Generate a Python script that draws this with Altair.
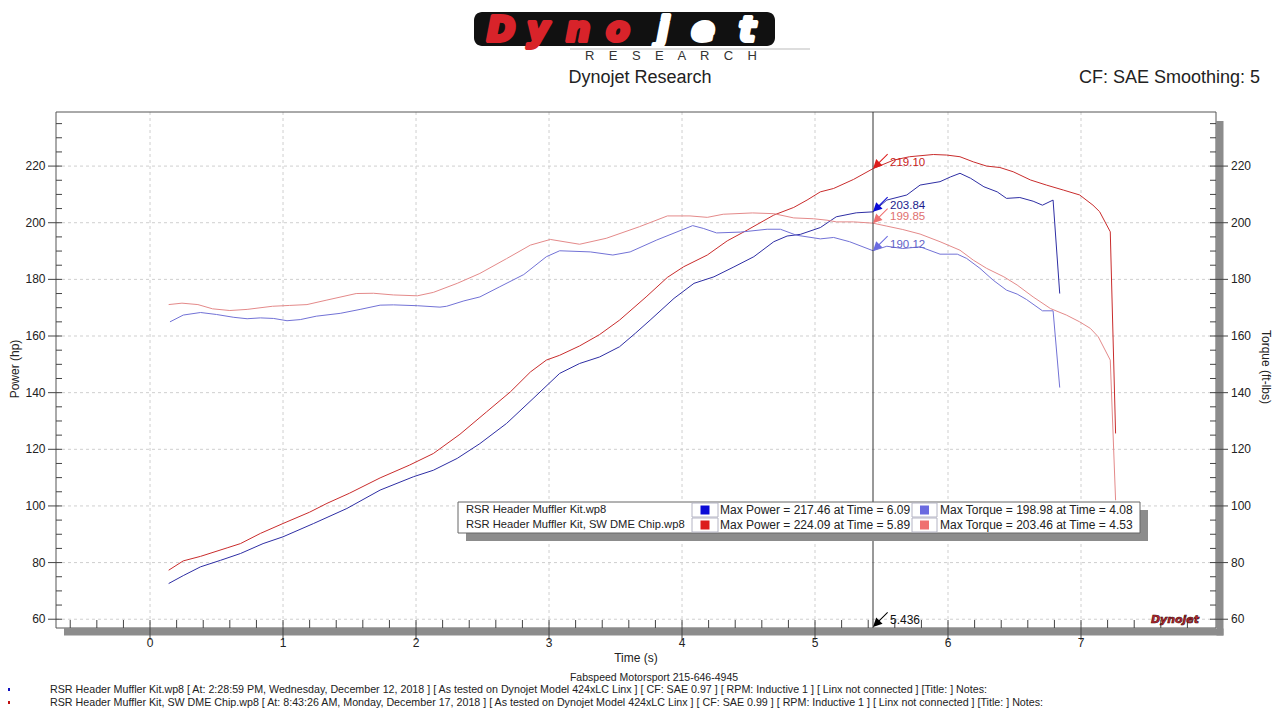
import altair as alt
import pandas as pd

# ---------------- data ----------------
run_names = ["RSR Header Muffler Kit.wp8", "RSR Header Muffler Kit, SW DME Chip.wp8"]
max_power = [217.46, 224.09]
max_power_time = [6.09, 5.89]
max_torque = [198.98, 203.46]
max_torque_time = [4.08, 4.53]

# run 1 power (hp)
pow1_t = [0.14, 0.25, 0.38, 0.53, 0.68, 0.85, 1.00, 1.23, 1.48, 1.73, 1.98, 2.13, 2.31, 2.48, 2.68,
          2.88, 3.08, 3.23, 3.38, 3.53, 3.65, 3.76, 3.94, 4.09, 4.24, 4.39, 4.54, 4.69, 4.79, 4.89,
          5.04, 5.16, 5.31, 5.436, 5.54, 5.69, 5.79, 5.94, 6.02, 6.09, 6.17, 6.27, 6.37, 6.44, 6.54,
          6.64, 6.71, 6.79, 6.84]
pow1_v = [72.6, 75.4, 78.5, 80.8, 83.2, 86.7, 89.1, 93.8, 99.1, 105.6, 110.3, 112.6, 116.8, 122.0, 129.1,
          137.9, 146.8, 150.3, 152.6, 156.2, 161.0, 165.6, 173.3, 178.6, 180.9, 184.4, 188.0, 193.3, 195.3, 195.9,
          198.3, 202.1, 203.5, 203.84, 208.0, 209.8, 213.3, 214.5, 216.2, 217.46, 215.7, 212.7, 210.9, 208.6, 208.9,
          207.6, 206.2, 208.0, 175.0]

# run 2 power (hp)
pow2_t = [0.14, 0.25, 0.38, 0.58, 0.68, 0.83, 1.00, 1.20, 1.33, 1.50, 1.73, 1.95, 2.13, 2.33, 2.53,
          2.71, 2.86, 2.98, 3.08, 3.23, 3.38, 3.53, 3.73, 3.89, 4.01, 4.19, 4.34, 4.49, 4.69, 4.84,
          4.94, 5.04, 5.14, 5.29, 5.436, 5.59, 5.71, 5.89, 5.99, 6.09, 6.19, 6.29, 6.39, 6.49, 6.62,
          6.74, 6.87, 6.99, 7.09, 7.14, 7.22, 7.26]
pow2_v = [77.3, 80.6, 82.2, 85.2, 86.7, 90.3, 93.8, 97.8, 100.9, 104.5, 109.9, 114.4, 118.5, 125.3, 133.2,
          140.3, 147.3, 151.5, 153.2, 156.5, 160.5, 165.6, 173.8, 180.7, 184.4, 188.6, 193.6, 197.4, 202.7, 205.4,
          208.0, 210.9, 212.1, 215.3, 219.10, 222.1, 223.3, 224.09, 223.9, 223.3, 221.5, 220.0, 219.5, 218.0, 215.1,
          213.3, 211.5, 209.8, 206.2, 203.9, 196.8, 125.6]

# run 1 torque (ft-lbs)
tq1_t = [0.15, 0.25, 0.38, 0.50, 0.63, 0.73, 0.83, 0.93, 1.03, 1.13, 1.25, 1.43, 1.58, 1.73, 1.83,
         2.01, 2.18, 2.23, 2.36, 2.48, 2.63, 2.81, 2.98, 3.08, 3.31, 3.48, 3.61, 3.81, 4.08, 4.16,
         4.26, 4.44, 4.64, 4.74, 4.86, 5.04, 5.14, 5.26, 5.436, 5.54, 5.66, 5.79, 5.94, 6.07, 6.14,
         6.24, 6.34, 6.44, 6.52, 6.59, 6.71, 6.79, 6.84]
tq1_v = [165.0, 167.4, 168.3, 167.6, 166.6, 166.1, 166.4, 166.2, 165.4, 165.8, 167.0, 168.0, 169.4, 170.9, 171.0,
         170.7, 170.2, 170.5, 172.4, 173.8, 177.4, 181.7, 188.0, 190.1, 189.7, 188.6, 189.7, 193.9, 198.98, 198.0,
         196.4, 196.7, 197.7, 197.7, 195.6, 194.3, 194.8, 193.3, 190.12, 191.7, 190.9, 191.5, 188.9, 188.9, 187.4,
         183.9, 179.7, 176.2, 174.8, 172.9, 168.9, 168.9, 141.8]

# run 2 torque (ft-lbs)
tq2_t = [0.14, 0.24, 0.36, 0.47, 0.60, 0.73, 0.92, 1.05, 1.18, 1.33, 1.55, 1.68, 1.83, 2.01, 2.13,
         2.31, 2.48, 2.68, 2.86, 3.01, 3.23, 3.43, 3.68, 3.89, 4.06, 4.19, 4.31, 4.53, 4.69, 4.84,
         4.99, 5.09, 5.16, 5.29, 5.436, 5.54, 5.66, 5.79, 5.94, 6.09, 6.19, 6.29, 6.42, 6.52, 6.64,
         6.77, 6.89, 6.99, 7.07, 7.13, 7.22, 7.26]
tq2_v = [171.1, 171.6, 171.1, 169.6, 169.0, 169.4, 170.5, 170.8, 171.1, 172.7, 175.0, 175.1, 174.5, 174.2, 175.4,
         178.6, 182.1, 187.3, 192.1, 194.1, 192.4, 194.5, 198.6, 202.4, 202.4, 201.9, 203.0, 203.46, 203.2, 201.7,
         201.4, 200.9, 200.3, 200.3, 199.85, 198.8, 197.6, 196.0, 193.3, 190.3, 186.8, 183.9, 180.9, 178.0, 173.8,
         169.7, 167.4, 165.0, 162.7, 159.7, 151.5, 102.0]

series_names = ["Power 1", "Power 2", "Torque 1", "Torque 2"]
line_colors = ["#2e2ea4", "#c92c2c", "#7272d6", "#e48a8a"]
swatch_colors = ["#0a0ad6", "#dc1c1c", "#6b6be0", "#ef7070"]
label_colors = ["#1c1c8c", "#c82020", "#6262c8", "#e07070"]

cursor_time = 5.436
cursor_series = ["Power 2", "Power 1", "Torque 2", "Torque 1"]
cursor_values = [219.10, 203.84, 199.85, 190.12]

y_labels = [60, 80, 100, 120, 140, 160, 180, 200, 220]
y_minor = [65, 70, 75, 85, 90, 95, 105, 110, 115, 125, 130, 135, 145, 150, 155, 165, 170, 175,
           185, 190, 195, 205, 210, 215, 225, 230, 235]
x_labels = [0, 1, 2, 3, 4, 5, 6, 7]
x_minor = [-0.6, -0.4, -0.2, 0.2, 0.4, 0.6, 0.8, 1.2, 1.4, 1.6, 1.8, 2.2, 2.4, 2.6, 2.8,
           3.2, 3.4, 3.6, 3.8, 4.2, 4.4, 4.6, 4.8, 5.2, 5.4, 5.6, 5.8, 6.2, 6.4, 6.6, 6.8,
           7.2, 7.4, 7.6, 7.8]

title_text = "Dynojet Research"
cf_text = "CF: SAE Smoothing: 5"
shop_text = "Fabspeed Motorsport 215-646-4945"
x_title = "Time (s)"
y_title_left = "Power (hp)"
y_title_right = "Torque (ft-lbs)"
footer_lines = [
    "RSR Header Muffler Kit.wp8 [ At: 2:28:59 PM, Wednesday, December 12, 2018 ] [ As tested on Dynojet Model 424xLC Linx ] [ CF: SAE 0.97 ] [ RPM: Inductive 1 ] [ Linx not connected ] [Title: ]  Notes:",
    "RSR Header Muffler Kit, SW DME Chip.wp8 [ At: 8:43:26 AM, Monday, December 17, 2018 ] [ As tested on Dynojet Model 424xLC Linx ] [ CF: SAE 0.99 ] [ RPM: Inductive 1 ] [ Linx not connected ] [Title: ]  Notes:",
]
logo_letters = ["D", "y", "n", "o", "j", "e", "t"]

# ---------------- build ----------------
FONT = "Liberation Sans"
W, H = 1160, 516

rows = []
for name, ts, vs in zip(series_names, [pow1_t, pow2_t, tq1_t, tq2_t], [pow1_v, pow2_v, tq1_v, tq2_v]):
    for i, (t, v) in enumerate(zip(ts, vs)):
        rows.append({"series": name, "t": t, "v": v, "i": i})
df = pd.DataFrame(rows)

xs = alt.Scale(domain=[-0.707, 8.015], nice=False, zero=False)
ys = alt.Scale(domain=[56.9, 239.1], nice=False, zero=False)
one = pd.DataFrame({"k": [0]})


def rect(x1, x2, y1, y2, **mk):
    return alt.Chart(one).mark_rect(**mk).encode(
        x=alt.value(x1), x2=alt.value(x2), y=alt.value(y1), y2=alt.value(y2))


def text(s, x, y, size=12, color="#222", align="left", baseline="middle", font=FONT, **kw):
    return alt.Chart(one).mark_text(text=s, align=align, baseline=baseline, fontSize=size,
                                    color=color, font=font, **kw).encode(x=alt.value(x), y=alt.value(y))


def hrules(values, x1, x2, color="#444", **kw):
    return alt.Chart(pd.DataFrame({"v": values})).mark_rule(color=color, strokeWidth=1, **kw).encode(
        y=alt.Y("v:Q", scale=ys, axis=None), x=alt.value(x1), x2=alt.value(x2))


def vrules(values, y1, y2, color="#444", **kw):
    return alt.Chart(pd.DataFrame({"t": values})).mark_rule(color=color, strokeWidth=1, **kw).encode(
        x=alt.X("t:Q", scale=xs, axis=None), y=alt.value(y1), y2=alt.value(y2))


layers = []
# shadow of plot frame
layers.append(rect(8, W + 7.5, H + 0.5, H + 7.5, fill="#8c8c8c"))
layers.append(rect(W + 0.5, W + 7.5, 9, H + 7.5, fill="#8c8c8c"))

# dashed grid
layers.append(vrules(x_labels, 0, H, color="#cfcfcf", strokeDash=[3, 3]))
layers.append(hrules(y_labels, 0, W, color="#cfcfcf", strokeDash=[3, 3]))

# frame
layers.append(rect(0, W, 0, H, fill="white", fillOpacity=0, stroke="#555", strokeWidth=1))

# ticks
layers.append(hrules(y_labels, -8, 6))
layers.append(hrules(y_minor, 0, 6))
layers.append(hrules(y_labels, W - 6, W + 12))
layers.append(hrules(y_minor, W - 6, W))
layers.append(vrules(x_labels, H - 8, H + 12))
layers.append(vrules(x_minor, H - 8, H))

# axis labels
layers.append(alt.Chart(pd.DataFrame({"v": y_labels})).mark_text(
    align="right", baseline="middle", fontSize=12, font=FONT, color="#222").encode(
    y=alt.Y("v:Q", scale=ys, axis=None), x=alt.value(-10.5), text="v:Q"))
layers.append(alt.Chart(pd.DataFrame({"v": y_labels})).mark_text(
    align="left", baseline="middle", fontSize=12, font=FONT, color="#222").encode(
    y=alt.Y("v:Q", scale=ys, axis=None), x=alt.value(W + 15), text="v:Q"))
layers.append(alt.Chart(pd.DataFrame({"t": x_labels})).mark_text(
    align="center", baseline="middle", fontSize=12, font=FONT, color="#222").encode(
    x=alt.X("t:Q", scale=xs, axis=None), y=alt.value(H + 15), text="t:Q"))
layers.append(text(x_title, W / 2, H + 30, align="center"))
layers.append(text(y_title_left, -41, H / 2 - 1, angle=270, align="center"))
layers.append(text(y_title_right, W + 50, H / 2 - 3, angle=90, align="center"))

# data lines
layers.append(alt.Chart(df).mark_line(strokeWidth=1).encode(
    x=alt.X("t:Q", scale=xs, axis=None),
    y=alt.Y("v:Q", scale=ys, axis=None),
    color=alt.Color("series:N", scale=alt.Scale(domain=series_names, range=line_colors), legend=None),
    order=alt.Order("i:Q"),
))

# cursor
cdf = pd.DataFrame({
    "t": [cursor_time] * len(cursor_values),
    "v": cursor_values,
    "lab": [f"{v:.2f}" for v in cursor_values],
    "c": [label_colors[series_names.index(s)] for s in cursor_series],
    "a": [swatch_colors[series_names.index(s)] for s in cursor_series],
})
layers.append(alt.Chart(pd.DataFrame({"t": [cursor_time]})).mark_rule(color="#333", strokeWidth=1).encode(
    x=alt.X("t:Q", scale=xs, axis=None), y=alt.value(0), y2=alt.value(H)))
arrow = "M-1,1L-0.576,-0.273L-0.201,0.102L0.901,-1L1,-0.901L-0.102,0.201L0.273,0.576Z"
layers.append(alt.Chart(cdf).mark_point(shape=arrow, filled=True, size=225, opacity=1,
                                        xOffset=7.5, yOffset=-7.5).encode(
    x=alt.X("t:Q", scale=xs, axis=None), y=alt.Y("v:Q", scale=ys, axis=None),
    color=alt.Color("a:N", scale=None)))
layers.append(alt.Chart(cdf).mark_text(align="left", baseline="middle", fontSize=11.5, font=FONT,
                                       dx=17, dy=-6).encode(
    x=alt.X("t:Q", scale=xs, axis=None), y=alt.Y("v:Q", scale=ys, axis=None),
    text="lab:N", color=alt.Color("c:N", scale=None)))
bdf = pd.DataFrame({"t": [cursor_time], "lab": [f"{cursor_time:.3f}"]})
layers.append(alt.Chart(bdf).mark_point(shape=arrow, filled=True, size=225, opacity=1, color="#000",
                                        xOffset=7.5, yOffset=-7.5).encode(
    x=alt.X("t:Q", scale=xs, axis=None), y=alt.value(H - 1)))
layers.append(alt.Chart(bdf).mark_text(align="left", baseline="middle", fontSize=12, font=FONT,
                                       color="#111", dx=17, dy=-8).encode(
    x=alt.X("t:Q", scale=xs, axis=None), y=alt.value(H), text="lab:N"))

# small logo in plot corner
layers.append(text("Dynojet", 1119, 508, size=11, color="#c4262e", align="center", fontWeight="bold",
                   fontStyle="italic", font="DejaVu Sans", stroke="#3a0a0a", strokeWidth=0.6))

# legend box
layers.append(rect(410, 1092, 398, 429, fill="#8c8c8c"))
layers.append(rect(402, 1084, 390, 421, fill="white", stroke="#666", strokeWidth=1))
row_y = [398, 413]
for r in range(2):
    y = row_y[r]
    layers.append(rect(636, 662, y - 7, y + 7, fill="white", stroke="#b4b4c4", strokeWidth=1))
    layers.append(rect(856, 881, y - 7, y + 7, fill="white", stroke="#b4b4c4", strokeWidth=1))
    layers.append(rect(644.5, 653.5, y - 4.5, y + 4.5, fill=swatch_colors[r]))
    layers.append(rect(864, 873, y - 4.5, y + 4.5, fill=swatch_colors[r + 2]))
    layers.append(text(run_names[r], 410, y, size=11.2))
    layers.append(text(f"Max Power = {max_power[r]:.2f} at Time = {max_power_time[r]:.2f}", 664, y))
    layers.append(text(f"Max Torque = {max_torque[r]:.2f} at Time = {max_torque_time[r]:.2f}", 884, y))

# header logo
logo_x = [445, 482, 522, 562, 607, 647, 691]
layers.append(rect(418, 719, -100, -66, fill="#111", cornerRadius=8))
for k, (ch, lx) in enumerate(zip(logo_letters, logo_x)):
    col = "#d8232a" if k < 4 else "#ffffff"
    layers.append(text(ch, lx, -71, size=34, color=col, align="center", baseline="alphabetic",
                       font="DejaVu Sans", fontWeight="bold", fontStyle="italic",
                       stroke=col, strokeWidth=4, strokeJoin="round"))
layers.append(alt.Chart(one).mark_rule(color="#bbbbbb", strokeWidth=1).encode(
    x=alt.value(514), x2=alt.value(754), y=alt.value(-63)))
layers.append(text(" \u00a0\u00a0 ".join("RESEARCH"), 615, -56, size=13, color="#333", align="center"))
layers.append(text(title_text, 584, -34, size=18, color="#222", align="center"))
layers.append(text(cf_text, 1204, -34, size=18, color="#222", align="right"))

# footer
layers.append(text(shop_text, 598, 566, size=10.5, color="#222", align="center"))
layers.append(text(footer_lines[0], -6, 578, size=10.7, color="#222"))
layers.append(text(footer_lines[1], -6, 591, size=10.7, color="#222"))
layers.append(rect(-48, -46, 576, 579, fill="#1010c0"))
layers.append(rect(-48, -46, 589, 592, fill="#c01010"))

chart = alt.layer(*layers).properties(
    width=W, height=H,
    padding={"left": 48, "top": 104, "right": 56, "bottom": 80},
    autosize=alt.AutoSizeParams(type="none"),
    background="white",
).configure_view(stroke=None)

chart.save("out.html", embed_options={"renderer": "svg", "actions": False})
